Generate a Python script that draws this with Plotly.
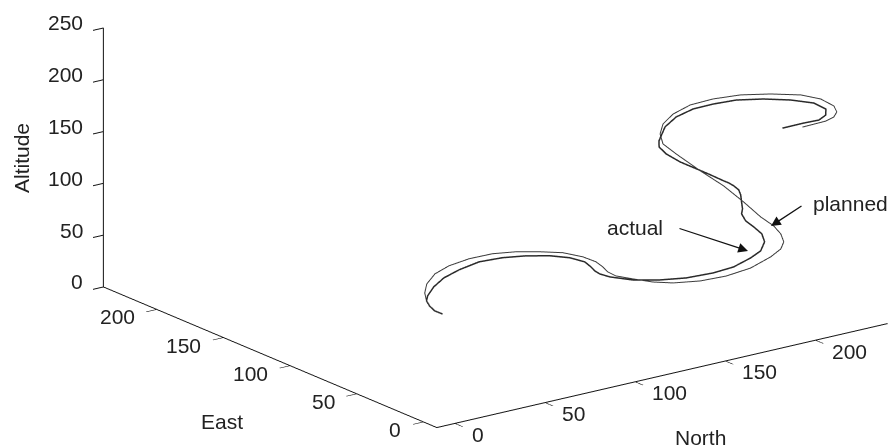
import plotly.graph_objects as go

actual_north = [88.6,87.5,89.0,91.3,95.1,104.0,114.5,125.8,139.0,149.9,158.9,166.8,171.4,172.4,169.5,166.6,164.9,165.1,169.0,176.1,184.5,195.0,203.8,213.2,218.4,223.1,224.5,223.1,220.9,220.1,221.2,220.6,221.0,221.9,220.9,219.4,217.1,212.2,207.0,199.1,192.1,186.7,183.0,182.1,183.1,185.4,191.5,199.7,210.3,219.2,224.9,224.1,218.9,212.2,204.2,192.3]
actual_east = [119.0,123.4,129.3,134.7,139.0,146.5,153.0,157.0,159.7,157.1,151.9,144.4,135.6,125.7,117.2,110.4,104.3,97.0,85.0,74.3,66.1,59.9,56.6,56.5,56.0,59.4,63.4,67.6,70.6,72.6,73.4,73.3,74.5,77.2,79.6,81.4,82.0,85.3,88.7,90.3,91.3,89.3,84.4,78.6,71.6,62.0,55.2,48.9,42.9,34.5,24.9,14.8,7.9,4.0,4.6,4.4]
actual_alt = [0,1,2,3,4,5,6,7,8,9,10,11,12,13,14,15,16,17,19,22,25,29,33,38,43,48,53,58,63,69,73,80,86,89,92,94.5,97,103,109,118,128,138,148,165,178,190,196,200,200,200,200,200,200,200,200,200]

planned_north = [88.6,87.5,89.0,91.3,96.6,104.1,114.7,125.6,138.0,149.7,158.8,166.6,173.2,176.0,175.6,172.9,169.5,168.1,169.9,172.7,177.3,186.2,196.2,207.3,218.6,224.6,227.3,228.6,227.6,223.5,216.9,210.2,201.4,193.9,184.5,183.1,179.5,180.9,186.0,194.0,205.5,217.1,227.1,230.8,229.6,225.5,220.1,213.8,200.4]
planned_east = [119.0,123.4,129.3,134.7,143.2,151.8,160.0,164.3,165.9,164.3,159.2,151.7,143.3,132.0,121.7,112.9,104.5,96.6,86.2,75.0,66.2,57.7,51.7,48.5,48.8,49.3,50.7,54.7,58.7,62.9,66.8,72.7,78.2,86.2,83.4,83.7,76.6,71.0,65.0,58.7,53.7,46.8,37.7,27.8,16.2,8.5,3.5,1.0,0.3]
planned_alt = [0,1,2,3,4,5,6,7,8,9,10,11,12,13,14,15,16,17,19,21,23,26,30,35,41,46,51,56,62,70,85,100,115,130,145,155,170,182,192,198,200,200,200,200,200,200,200,200,200]

north_ticks = [0, 50, 100, 150, 200]
east_ticks = [0, 50, 100, 150, 200]
alt_ticks = [0, 50, 100, 150, 200, 250]

NORTH_MIN, NORTH_MAX = -10, 240
EAST_MIN, EAST_MAX = -10, 240
ALT_MIN, ALT_MAX = 0, 250

W, H = 890, 445
FONT = dict(family="Liberation Sans, Arial, sans-serif", size=21, color="#222222")


def px(x):
    return x / W


def py(y):
    return 1 - y / H


fig = go.Figure()
fig.add_trace(go.Scatter3d(x=planned_north, y=planned_east, z=planned_alt, mode="lines",
                           line=dict(color="#3a3a3a", width=2), name="planned", showlegend=False))
fig.add_trace(go.Scatter3d(x=actual_north, y=actual_east, z=actual_alt, mode="lines",
                           line=dict(color="#2a2a2a", width=3), name="actual", showlegend=False))

axis_common = dict(showbackground=False, showgrid=False, zeroline=False, showspikes=False,
                   showline=True, linecolor="#111111", linewidth=2, ticks="outside",
                   ticklen=13, tickcolor="#111111", tickwidth=2, title=dict(text=""),
                   showticklabels=False)

tick_notes = []
for v in north_ticks:
    tick_notes.append(dict(x=v, y=EAST_MIN, z=ALT_MIN, text=str(v), showarrow=False, font=FONT,
                           xanchor="left", yanchor="middle", xshift=15, yshift=-11))
for v in east_ticks:
    tick_notes.append(dict(x=NORTH_MIN, y=v, z=ALT_MIN, text=str(v), showarrow=False, font=FONT,
                           xanchor="right", yanchor="middle", xshift=-20, yshift=-7.5))
for v in alt_ticks:
    tick_notes.append(dict(x=NORTH_MIN, y=EAST_MAX, z=v, text=str(v), showarrow=False, font=FONT,
                           xanchor="right", yanchor="middle", xshift=-18, yshift=5))

d = 4.0
cx, cy, cz = -0.2215, 0.0824, -0.1996
LABEL = dict(xref="paper", yref="paper", showarrow=False, font=FONT, xanchor="center", yanchor="middle")
ARROW = dict(xref="paper", yref="paper", axref="pixel", ayref="pixel", text="", showarrow=True,
             arrowhead=2, arrowwidth=1.3, arrowsize=1.5, arrowcolor="#111111")
fig.update_layout(
    width=W, height=H, margin=dict(l=0, r=0, t=0, b=0), paper_bgcolor="white", showlegend=False,
    scene=dict(
        domain=dict(x=[0, 1], y=[0, 1]),
        xaxis=dict(range=[NORTH_MIN, NORTH_MAX], tickvals=north_ticks, **axis_common),
        yaxis=dict(range=[EAST_MIN, EAST_MAX], tickvals=east_ticks, **axis_common),
        zaxis=dict(range=[ALT_MIN, ALT_MAX], tickvals=alt_ticks, **axis_common),
        aspectmode="manual", aspectratio=dict(x=2.52, y=2.52, z=1.225),
        camera=dict(projection=dict(type="orthographic"),
                    up=dict(x=0, y=0, z=1),
                    center=dict(x=cx, y=cy, z=cz),
                    eye=dict(x=cx - 0.565 * d, y=cy - 0.764 * d, z=cz + 0.312 * d)),
        annotations=tick_notes,
    ),
    annotations=[
        dict(x=px(700), y=py(437), text="North", **LABEL),
        dict(x=px(222), y=py(421), text="East", **LABEL),
        dict(x=px(21), y=py(158), text="Altitude", textangle=-90, **LABEL),
        dict(x=px(635), y=py(227), text="actual", **LABEL),
        dict(x=px(850), y=py(203), text="planned", **LABEL),
        dict(x=px(748), y=py(251), ax=678 - 748, ay=228 - 251, **ARROW),
        dict(x=px(771), y=py(226), ax=803 - 771, ay=205 - 226, **ARROW),
    ],
)
fig.write_html("out.html", post_script="document.body.style.margin='0';",
               config=dict(displayModeBar=False))
